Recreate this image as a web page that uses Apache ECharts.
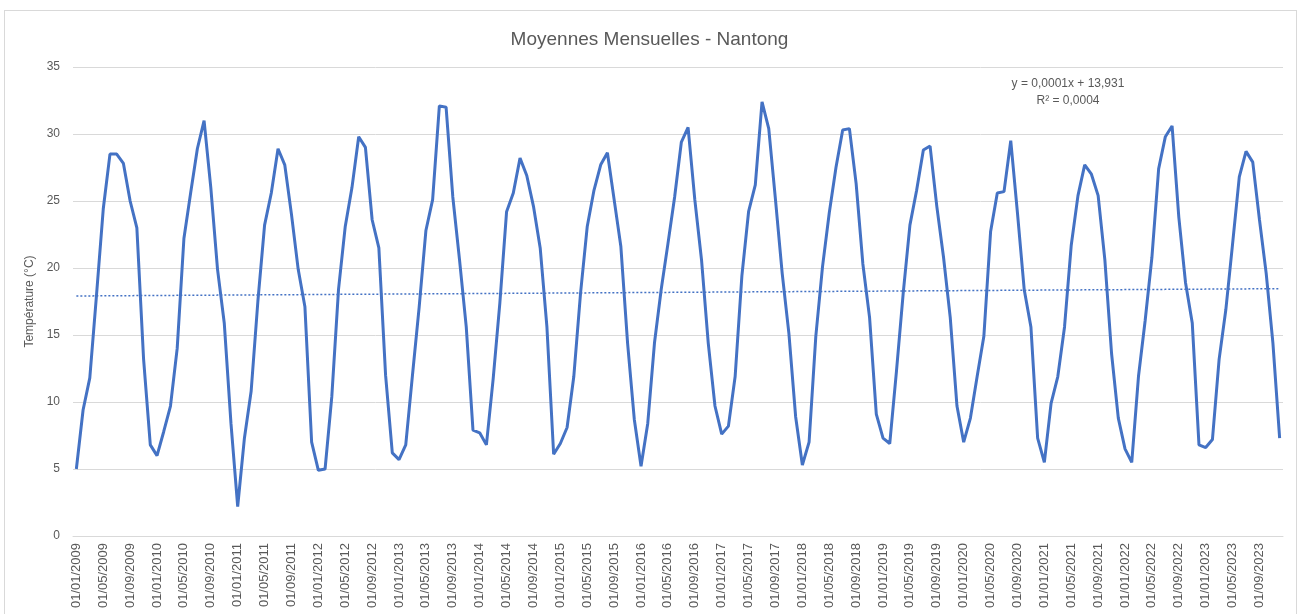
<!DOCTYPE html>
<html>
<head>
<meta charset="utf-8">
<script src="https://cdn.jsdelivr.net/npm/echarts@6/dist/echarts.min.js"></script>
<style>
  html, body { margin: 0; padding: 0; background: #fff; }
  #frame { position: absolute; left: 4px; top: 10px; width: 1291px; height: 700px; border: 1px solid #d9d9d9; }
  #chart { position: absolute; left: 0; top: 0; width: 1299px; height: 614px; }
</style>
</head>
<body>
<div id="frame"></div>
<div id="chart"></div>
<script>
// monthly mean temperatures, Jan 2009 .. Dec 2023
const temps2009 = [5.0, 9.4, 11.8, 18.0, 24.4, 28.5, 28.5, 27.8, 25.0, 23.0, 13.2, 6.8];
const temps2010 = [6.0, 7.8, 9.7, 14.0, 22.2, 25.6, 28.9, 31.0, 26.0, 19.9, 15.9, 8.4];
const temps2011 = [2.2, 7.3, 10.8, 17.5, 23.2, 25.6, 28.9, 27.7, 24.0, 19.9, 17.1, 7.0];
const temps2012 = [4.9, 5.0, 10.4, 18.4, 23.1, 26.0, 29.8, 29.0, 23.6, 21.5, 12.0, 6.2];
const temps2013 = [5.7, 6.8, 12.0, 17.1, 22.8, 25.1, 32.1, 32.0, 25.3, 20.6, 15.6, 7.9];
const temps2014 = [7.7, 6.8, 11.7, 17.4, 24.2, 25.6, 28.2, 26.9, 24.6, 21.5, 15.6, 6.1];
const temps2015 = [6.9, 8.1, 11.9, 18.1, 23.1, 25.8, 27.7, 28.6, 25.1, 21.6, 14.4, 8.7];
const temps2016 = [5.2, 8.4, 14.4, 18.4, 21.8, 25.3, 29.4, 30.5, 25.1, 20.6, 14.4, 9.7];
const temps2017 = [7.6, 8.2, 11.9, 19.4, 24.2, 26.2, 32.4, 30.4, 25.1, 19.6, 15.1, 8.9];
const temps2018 = [5.3, 7.0, 14.9, 20.1, 24.1, 27.5, 30.3, 30.4, 26.3, 20.3, 16.3, 9.1];
const temps2019 = [7.3, 6.9, 12.3, 18.1, 23.2, 25.8, 28.8, 29.1, 24.6, 20.8, 16.3, 9.7];
const temps2020 = [7.0, 8.8, 11.9, 14.9, 22.7, 25.6, 25.7, 29.5, 24.1, 18.4, 15.6, 7.3];
const temps2021 = [5.5, 9.9, 11.9, 15.6, 21.7, 25.4, 27.7, 27.0, 25.4, 20.6, 13.6, 8.8];
const temps2022 = [6.5, 5.5, 11.9, 16.1, 20.8, 27.4, 29.8, 30.6, 23.8, 18.9, 15.9, 6.8];
const temps2023 = [6.6, 7.2, 13.2, 16.9, 21.8, 26.8, 28.7, 27.9, 23.6, 19.6, 14.4, 7.3];

const temps = [].concat(temps2009, temps2010, temps2011, temps2012, temps2013, temps2014,
  temps2015, temps2016, temps2017, temps2018, temps2019, temps2020, temps2021, temps2022, temps2023);

const yTicks = [0, 5, 10, 15, 20, 25, 30, 35];

// trendline shown on the chart: y = 0,0001x + 13,931 (x = Excel date serial)
const trendSlope = 0.0001;
const trendIntercept = 13.931;

const dates = [];
const serials = [];
for (let y = 2009; y <= 2023; y++) {
  for (let m = 1; m <= 12; m++) {
    dates.push('01/' + String(m).padStart(2, '0') + '/' + y);
    serials.push((Date.UTC(y, m - 1, 1) - Date.UTC(1899, 11, 30)) / 86400000);
  }
}
const trend = serials.map(s => +(trendSlope * s + trendIntercept).toFixed(3));

const grey = '#595959';
const font = 'Liberation Sans';

const chart = echarts.init(document.getElementById('chart'));
chart.setOption({
  animation: false,
  title: {
    text: 'Moyennes Mensuelles - Nantong',
    left: 'center',
    top: 25,
    textStyle: { color: grey, fontSize: 19, fontWeight: 'normal', fontFamily: font }
  },
  grid: { left: 73, right: 16, top: 67, bottom: 78 },
  xAxis: {
    type: 'category',
    data: dates,
    boundaryGap: true,
    axisLine: { lineStyle: { color: '#d9d9d9', width: 1 } },
    axisTick: { interval: 3, alignWithLabel: true, length: 5, lineStyle: { color: '#d9d9d9' } },
    axisLabel: { interval: 3, rotate: 90, color: grey, fontSize: 13, fontFamily: font, margin: 7 }
  },
  yAxis: {
    type: 'value',
    min: yTicks[0],
    max: yTicks[yTicks.length - 1],
    interval: 5,
    name: 'Température (°C)',
    nameLocation: 'middle',
    nameGap: 31,
    nameTextStyle: { color: grey, fontSize: 12, fontFamily: font },
    axisLine: { show: false },
    axisTick: { show: false },
    axisLabel: { color: grey, fontSize: 12, fontFamily: font, margin: 13 },
    splitLine: { lineStyle: { color: '#d9d9d9', width: 1 } }
  },
  series: [
    {
      name: 'Température',
      type: 'line',
      data: temps,
      symbol: 'none',
      lineStyle: { color: '#4472C4', width: 3 },
      z: 3
    },
    {
      name: 'Tendance',
      type: 'line',
      data: trend,
      symbol: 'none',
      lineStyle: { color: '#4472C4', width: 1.5, type: [2, 2] },
      z: 2
    }
  ],
  graphic: [
    {
      type: 'text', x: 1068, y: 84,
      style: { text: 'y = 0,0001x + 13,931', fill: grey, font: '12px "Liberation Sans"', align: 'center', verticalAlign: 'middle' }
    },
    {
      type: 'text', x: 1068, y: 101,
      style: { text: 'R² = 0,0004', fill: grey, font: '12px "Liberation Sans"', align: 'center', verticalAlign: 'middle' }
    }
  ]
});
</script>
</body>
</html>
